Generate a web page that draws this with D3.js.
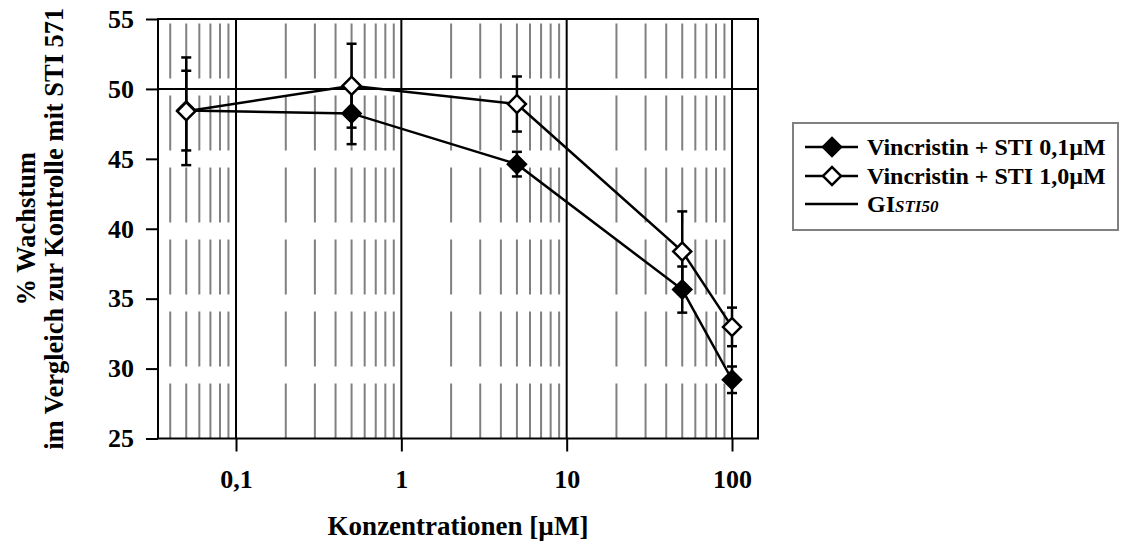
<!DOCTYPE html>
<html>
<head>
<meta charset="utf-8">
<script src="https://cdn.jsdelivr.net/npm/d3@7"></script>
<style>
  html, body { margin: 0; padding: 0; background: #fff; }
  svg { display: block; }
  text { font-family: "Liberation Serif", "Times New Roman", serif; font-weight: bold; fill: #000; }
</style>
</head>
<body>
<svg id="chart" width="1128" height="545"></svg>
<script>
"use strict";

// values
const concentrations = [0.05, 0.5, 5, 50, 100];
const growthLow = [48.45, 48.25, 44.62, 35.65, 29.2];
const errorLow = [2.85, 2.2, 0.88, 1.65, 0.95];
const growthHigh = [48.4, 50.23, 48.92, 38.38, 32.98];
const errorHigh = [3.85, 3.0, 1.97, 2.86, 1.38];
const gi50 = 50;

const seriesNames = ["Vincristin + STI 0,1µM", "Vincristin + STI 1,0µM"];
const xTickValues = [0.1, 1, 10, 100];
const xTickLabels = ["0,1", "1", "10", "100"];
const yTickValues = [25, 30, 35, 40, 45, 50, 55];
const xDomain = [0.03374, 143.6];
const yDomain = [25, 55];

const plot = { left: 158, right: 758, top: 19, bottom: 438.5 };
const MARKER_SIZE = 162;

const svg = d3.select("#chart");

const x = d3.scaleLog().domain(xDomain).range([plot.left, plot.right]);
const y = d3.scaleLinear().domain(yDomain).range([plot.bottom, plot.top]);

function isDecade(v) {
  const l = Math.log10(v);
  return Math.abs(l - Math.round(l)) < 1e-9;
}

// minor grid: gray dashed verticals for 2..9 of each decade
const minorTicks = x.ticks().filter((v) => !isDecade(v));
svg.append("g")
  .selectAll("line")
  .data(minorTicks)
  .join("line")
  .attr("x1", (d) => x(d))
  .attr("x2", (d) => x(d))
  .attr("y1", plot.bottom)
  .attr("y2", plot.top)
  .attr("stroke", "#808080")
  .attr("stroke-width", 2)
  .attr("stroke-dasharray", "55,17");

// major verticals
svg.append("g")
  .selectAll("line")
  .data(xTickValues)
  .join("line")
  .attr("x1", (d) => x(d))
  .attr("x2", (d) => x(d))
  .attr("y1", plot.bottom)
  .attr("y2", plot.top)
  .attr("stroke", "#000")
  .attr("stroke-width", 2);

// GI50 reference line
svg.append("line")
  .attr("x1", plot.left)
  .attr("x2", plot.right)
  .attr("y1", y(gi50))
  .attr("y2", y(gi50))
  .attr("stroke", "#000")
  .attr("stroke-width", 2);

// frame
svg.append("rect")
  .attr("x", plot.left)
  .attr("y", plot.top)
  .attr("width", plot.right - plot.left)
  .attr("height", plot.bottom - plot.top)
  .attr("fill", "none")
  .attr("stroke", "#000")
  .attr("stroke-width", 2);

// axes
const yAxis = svg.append("g")
  .attr("transform", `translate(${plot.left},0)`)
  .call(d3.axisLeft(y).tickValues(yTickValues).tickSize(12).tickPadding(12));

const xAxis = svg.append("g")
  .attr("transform", `translate(0,${plot.bottom})`)
  .call(
    d3.axisBottom(x)
      .tickValues(xTickValues)
      .tickSize(13)
      .tickPadding(18)
      .tickFormat((d, i) => xTickLabels[i])
  );

[yAxis, xAxis].forEach((g) => {
  g.select(".domain").remove();
  g.selectAll(".tick line").attr("stroke", "#000").attr("stroke-width", 2);
  g.selectAll(".tick text")
    .attr("font-size", 26)
    .attr("font-family", "'Liberation Serif', 'Times New Roman', serif")
    .attr("font-weight", "bold")
    .attr("fill", "#000");
});

// axis titles
const yTitle = svg.append("text")
  .attr("transform", `translate(0,${(plot.top + plot.bottom) / 2}) rotate(-90)`)
  .attr("text-anchor", "middle")
  .attr("font-size", 26.5);
yTitle.append("tspan").attr("x", 0).attr("y", 35).text("% Wachstum");
yTitle.append("tspan").attr("x", 0).attr("y", 63).text("im Vergleich zur Kontrolle mit STI 571");

svg.append("text")
  .attr("x", (plot.left + plot.right) / 2)
  .attr("y", 535)
  .attr("text-anchor", "middle")
  .attr("font-size", 27)
  .text("Konzentrationen [µM]");

// series
const diamond = d3.symbol().type(d3.symbolSquare).size(MARKER_SIZE);

function drawSeries(values, errors, fill) {
  const pts = concentrations.map((c, i) => ({ c, v: values[i], e: errors[i] }));
  const g = svg.append("g");

  g.append("path")
    .datum(pts)
    .attr("fill", "none")
    .attr("stroke", "#000")
    .attr("stroke-width", 2.5)
    .attr("d", d3.line().x((d) => x(d.c)).y((d) => y(d.v)));

  const bars = g.selectAll(".err").data(pts).join("g").attr("class", "err");
  bars.append("line")
    .attr("x1", (d) => x(d.c))
    .attr("x2", (d) => x(d.c))
    .attr("y1", (d) => y(d.v - d.e))
    .attr("y2", (d) => y(d.v + d.e));
  [1, -1].forEach((sign) => {
    bars.append("line")
      .attr("x1", (d) => x(d.c) - 5)
      .attr("x2", (d) => x(d.c) + 5)
      .attr("y1", (d) => y(d.v + sign * d.e))
      .attr("y2", (d) => y(d.v + sign * d.e));
  });
  bars.selectAll("line").attr("stroke", "#000").attr("stroke-width", 2.5);

  g.selectAll(".mark")
    .data(pts)
    .join("path")
    .attr("class", "mark")
    .attr("d", diamond)
    .attr("transform", (d) => `translate(${x(d.c)},${y(d.v)}) rotate(45)`)
    .attr("fill", fill)
    .attr("stroke", "#000")
    .attr("stroke-width", 2.5);
}

drawSeries(growthLow, errorLow, "#000");
drawSeries(growthHigh, errorHigh, "#fff");

// legend
const legend = svg.append("g");
legend.append("rect")
  .attr("x", 793)
  .attr("y", 123)
  .attr("width", 325)
  .attr("height", 107)
  .attr("fill", "#fff")
  .attr("stroke", "#808080")
  .attr("stroke-width", 2);

const legendRows = [
  { label: seriesNames[0], fill: "#000", y: 147 },
  { label: seriesNames[1], fill: "#fff", y: 176 },
  { label: null, fill: null, y: 204 },
];

legendRows.forEach((row) => {
  legend.append("line")
    .attr("x1", 805)
    .attr("x2", 858)
    .attr("y1", row.y)
    .attr("y2", row.y)
    .attr("stroke", "#000")
    .attr("stroke-width", 2.5);
  if (row.fill) {
    legend.append("path")
      .attr("d", diamond)
      .attr("transform", `translate(832,${row.y}) rotate(45)`)
      .attr("fill", row.fill)
      .attr("stroke", "#000")
      .attr("stroke-width", 2.5);
  }
  const t = legend.append("text")
    .attr("x", 867)
    .attr("y", row.y)
    .attr("dy", "0.35em")
    .attr("font-size", 24);
  if (row.label) {
    t.text(row.label);
  } else {
    t.append("tspan").text("GI");
    t.append("tspan").attr("font-style", "italic").attr("font-size", 17).text("STI50");
  }
});
</script>
</body>
</html>
